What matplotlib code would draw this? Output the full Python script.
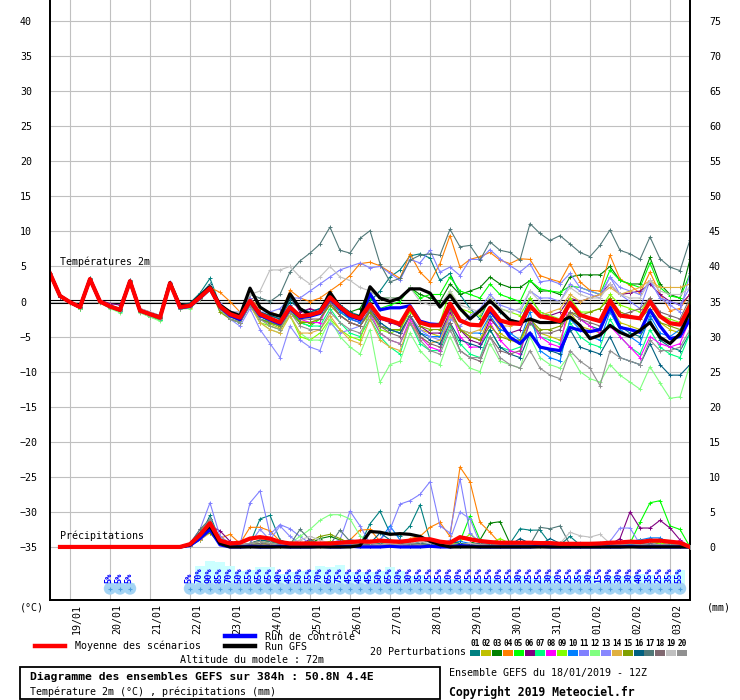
import numpy as np
import matplotlib
matplotlib.use("Agg")
import matplotlib.pyplot as plt
from matplotlib.lines import Line2D
from matplotlib.patches import Rectangle

plt.rcParams['font.family'] = ['DejaVu Sans Mono', 'DejaVu Sans']

# heures depuis le 18/01 12Z
temp_hours = np.arange(0, 385, 6)
rain_hours = np.arange(6, 385, 6)
member_rain_hours = np.arange(84, 385, 6)

day_hours = np.arange(12, 384, 24)
day_labels = ['19/01', '20/01', '21/01', '22/01', '23/01', '24/01', '25/01', '26/01',
              '27/01', '28/01', '29/01', '30/01', '31/01', '01/02', '02/02', '03/02']

# temperature 2m (C), 20 perturbations
t01 = [4.0,0.7,-0.2,-0.9, 3.3,0.1,-0.5,-1.0, 3.0,-1.2,-1.6,-2.1, 2.7,-0.5,-0.2,1.2,
       3.3,-0.5,-1.5,-2.0, 0.5,-1.5,-2.0,-2.5, 0.0,-1.0,-1.5,-1.0, 1.0,-0.5,-1.5,-2.0,
       0.0,1.5,3.5,4.5, 6.5,6.8,6.2,3.0, 4.0,1.0,-1.0,-2.5, 0.5,-1.5,-2.5,-3.0,
       0.5,-1.5,-2.0,-3.0, -0.5,-2.5,-3.5,-4.0, -1.0,-3.5,-4.5,-5.0, -2.5,-5.5,-6.5,-7.0, -4.5]
t02 = [4.0,0.9,0.0,-0.7, 3.1,-0.1,-0.9,-1.4, 2.8,-1.4,-2.0,-2.5, 2.5,-1.0,-0.9,0.4,
       1.6,-1.0,-2.2,-2.8, -0.3,-2.5,-3.2,-3.8, -1.5,-2.8,-3.0,-2.5, -0.5,-2.0,-3.0,-3.5,
       -1.5,-3.5,-4.0,-4.5, -2.0,-4.0,-4.5,-5.0, -1.5,-4.0,-5.0,-5.5, -2.0,-4.5,-5.5,-6.0,
       -2.5,-4.5,-5.0,-5.5, -1.5,-3.5,-4.0,-4.5, -0.5,-3.0,-3.5,-4.0, -1.0,-3.0,-4.0,-4.5, -2.0]
t03 = [4.0,0.8,-0.2,-1.0, 3.2,0.2,-0.6,-1.1, 2.9,-1.5,-2.2,-2.6, 2.6,-0.7,-0.5,0.8,
       2.0,-0.5,-1.5,-2.0, 0.5,-1.8,-2.5,-3.0, -1.0,-2.5,-2.0,-1.5, 0.5,-1.0,-1.5,-1.0,
       1.5,0.5,0.5,0.5, 2.0,1.0,0.5,0.0, 2.5,1.0,1.5,2.0, 3.5,2.5,2.0,2.0,
       3.0,1.5,1.5,1.0, 3.5,3.8,3.8,3.8, 5.0,3.0,2.5,2.5, 6.3,2.5,1.0,0.5, 6.0]
t04 = [4.0,0.8,-0.1,-0.8, 3.2,0.0,-0.6,-1.1, 2.9,-1.2,-1.8,-2.2, 2.6,-0.6,-0.4,0.7,
       2.0,1.3,0.0,-1.5, 0.5,-1.0,-1.5,-2.0, 1.6,0.5,0.0,0.5, 1.5,2.5,3.7,5.4,
       5.6,5.1,4.2,3.3, 6.8,4.2,2.8,5.4, 9.4,4.9,6.0,6.4, 7.0,5.9,5.4,6.1,
       6.0,3.7,3.2,2.8, 5.4,2.8,1.6,1.5, 6.6,3.2,2.3,1.2, 4.2,1.1,-1.3,-1.0, 1.1]
t05 = [4.1,0.9,0.0,-0.9, 3.3,0.1,-0.8,-1.3, 3.0,-1.2,-1.9,-2.4, 2.7,-0.9,-0.7,0.5,
       1.9,-0.8,-2.0,-2.5, 0.0,-2.0,-3.0,-3.5, -1.0,-3.0,-3.5,-2.5, 0.0,-1.5,-2.5,-2.0,
       0.5,-1.0,-0.5,0.0, 2.0,0.5,1.0,1.0, 3.5,1.5,1.0,0.5, 2.5,1.0,0.5,0.0,
       3.0,1.8,1.5,1.3, 2.2,2.0,1.5,1.0, 4.5,3.0,2.5,2.0, 5.5,2.0,0.8,0.5, 4.0]
t06 = [4.0,0.7,-0.1,-0.7, 3.2,0.2,-0.3,-0.5, 2.9,-1.0,-1.5,-2.0, 2.6,-0.5,-0.6,0.5,
       1.8,-0.5,-2.0,-2.5, 0.5,-1.5,-2.5,-3.0, 0.8,-1.5,-1.0,-1.5, 0.8,-1.0,-2.5,-3.0,
       -0.5,-2.5,-3.0,-3.5, -1.0,-3.5,-4.5,-4.5, -1.5,-4.0,-5.5,-6.0, -2.5,-4.0,-4.5,-4.0,
       -1.0,-2.0,-2.0,-1.5, 0.5,0.0,0.5,1.0, 2.5,1.0,1.2,1.5, 2.5,1.0,0.0,-0.5, 1.0]
t07 = [4.0,0.8,-0.2,-1.0, 3.3,0.0,-0.9,-1.5, 3.0,-1.5,-2.0,-2.6, 2.5,-1.0,-0.8,0.6,
       2.2,-1.0,-2.5,-3.0, -0.5,-2.5,-3.0,-3.5, -1.5,-3.0,-3.5,-3.5, -1.0,-3.0,-4.5,-5.0,
       -2.5,-5.0,-6.5,-7.5, -3.0,-6.0,-7.0,-7.0, -3.5,-6.0,-7.5,-8.0, -4.0,-6.5,-7.0,-6.5,
       -3.0,-5.0,-5.5,-6.0, -3.0,-5.0,-6.0,-6.5, -2.5,-5.0,-6.5,-7.5, -4.0,-6.5,-7.5,-8.0, -4.5]
t08 = [4.0,0.8,-0.1,-0.9, 3.2,0.0,-0.8,-1.3, 2.9,-1.4,-1.9,-2.4, 2.6,-0.8,-0.7,0.6,
       1.9,-0.8,-2.0,-2.5, 0.0,-2.0,-2.8,-3.5, -1.0,-2.5,-3.0,-3.0, 0.0,-2.0,-3.0,-3.5,
       -1.5,-4.5,-5.5,-6.0, -2.5,-5.0,-6.5,-7.0, -1.0,-5.0,-6.5,-6.5, -3.0,-5.5,-7.0,-7.5,
       -2.5,-5.0,-6.0,-6.5, 0.5,-2.5,-3.5,-4.5, -3.5,-5.0,-6.5,-8.0, -5.0,-6.0,-6.5,-6.0, -2.5]
t09 = [4.0,0.8,-0.1,-0.8, 3.1,0.0,-0.7,-1.2, 2.8,-1.3,-1.8,-2.3, 2.6,-0.8,-0.6,0.6,
       1.9,-0.7,-2.5,-3.0, -0.5,-3.0,-3.5,-4.0, -2.0,-5.0,-5.5,-4.5, -2.5,-4.0,-5.0,-5.5,
       -1.0,-4.0,-4.5,-4.0, -1.5,-3.0,-3.5,-3.0, 1.5,-1.0,-1.5,-2.0, 0.5,-1.0,-1.5,-2.0,
       0.5,-1.5,-2.0,-2.5, 0.5,-1.5,-1.5,-1.0, 1.0,-0.5,-1.0,-1.5, 0.5,-2.0,-2.5,-3.0, 0.0]
t10 = [4.0,0.8,-0.1,-0.8, 3.2,0.0,-0.7,-1.2, 2.9,-1.3,-1.8,-2.3, 2.6,-0.8,-0.5,0.7,
       2.0,-1.0,-2.5,-3.0, -0.5,-2.5,-3.0,-3.5, -0.5,-2.0,-1.5,-1.5, 0.5,-1.5,-2.5,-3.0,
       -1.5,-3.5,-4.0,-4.5, -2.0,-4.5,-5.0,-5.0, -2.0,-4.0,-4.5,-4.5, -2.0,-4.0,-4.5,-5.5,
       -1.5,-7.0,-8.0,-8.5, -2.5,-4.0,-5.0,-5.5, -1.5,-4.0,-5.0,-6.0, -2.0,-4.5,-5.0,-4.0, -1.5]
t11 = [4.0,0.8,-0.1,-0.8, 3.2,0.1,-0.6,-1.1, 3.0,-1.2,-1.7,-2.2, 2.8,-0.6,-0.4,0.8,
       2.2,-0.2,-1.5,-1.5, 0.5,-1.5,-1.5,-1.0, 0.5,0.5,1.5,2.5, 3.5,4.5,5.0,5.5,
       4.8,5.0,4.0,3.0, 6.0,5.5,7.3,4.2, 4.9,3.7,6.0,6.0, 7.4,6.1,5.1,4.2,
       5.4,2.8,3.0,2.5, 4.0,2.0,1.5,1.0, 3.5,1.0,0.0,-1.0, 3.0,0.5,0.0,-0.5, 2.0]
t12 = [4.0,0.8,-0.2,-1.0, 3.1,-0.2,-1.0,-1.6, 2.7,-1.6,-2.2,-2.8, 2.4,-1.1,-1.0,0.3,
       1.6,-1.2,-2.5,-3.0, -0.5,-3.0,-4.0,-4.5, -2.0,-4.5,-5.5,-5.5, -2.5,-5.0,-6.5,-7.5,
       -4.0,-11.5,-9.0,-8.5, -4.5,-7.0,-8.5,-9.0, -5.0,-8.0,-9.5,-10.0, -6.0,-8.5,-9.0,-9.5,
       -5.0,-8.0,-9.0,-9.5, -7.5,-10.0,-11.0,-11.5, -9.0,-10.5,-11.5,-12.5, -9.3,-11.6,-13.8,-13.6, -9.0]
t13 = [4.0,0.8,-0.1,-0.8, 3.2,0.0,-0.8,-1.3, 2.9,-1.3,-1.8,-2.4, 2.6,-0.8,-0.6,0.5,
       1.8,-1.0,-2.5,-3.5, -1.0,-4.0,-6.0,-8.0, -3.5,-5.5,-6.5,-7.0, -3.0,-4.5,-4.0,-3.5,
       -1.0,-3.0,-4.0,-4.5, -2.0,-4.0,-5.0,-5.5, -2.5,-3.5,-2.0,-1.0, 1.0,-0.5,-1.0,-1.5,
       1.5,0.5,0.5,0.0, 2.5,1.5,1.0,0.5, 3.5,2.0,1.5,1.0, 3.0,0.5,-0.5,-1.5, 4.0]
t14 = [3.9,0.9,-0.1,-0.7, 3.2,0.1,-0.6,-1.1, 2.9,-1.2,-1.7,-2.2, 2.6,-0.7,-0.6,0.7,
       1.9,-0.8,-2.0,-2.5, -0.5,-3.0,-4.0,-4.5, -2.0,-4.5,-4.5,-4.0, -2.0,-4.0,-5.5,-6.0,
       -2.5,-5.5,-6.5,-7.0, -3.0,-5.0,-6.0,-5.5, -2.0,-4.0,-4.5,-4.0, -1.5,-3.5,-3.5,-3.0,
       -1.0,-2.0,-1.5,-1.0, 1.0,0.0,0.5,1.0, 2.0,1.0,1.5,2.0, 3.0,2.0,2.0,2.0, 2.5]
t15 = [4.0,0.8,-0.1,-0.9, 3.2,0.0,-0.8,-1.3, 2.9,-1.4,-1.9,-2.4, 2.6,-0.9,-0.7,0.5,
       1.8,-1.5,-2.5,-3.0, -0.5,-2.5,-3.0,-3.5, -1.5,-3.0,-3.0,-2.5, -0.5,-2.0,-3.0,-3.5,
       -1.5,-3.5,-4.0,-4.0, -1.0,-3.5,-4.0,-4.0, -1.0,-4.0,-5.0,-5.5, -3.5,-5.0,-5.5,-5.5,
       -2.5,-4.0,-4.0,-3.5, -1.5,-2.0,-1.5,-1.0, 0.5,-1.5,-2.0,-2.5, -1.0,-3.0,-3.5,-4.0, -2.5]
t16 = [4.0,0.7,-0.1,-0.8, 3.3,0.1,-0.6,-1.0, 3.0,-1.1,-1.7,-2.2, 2.7,-0.6,-0.3,1.0,
       2.5,-0.5,-1.5,-2.0, 0.0,-1.5,-2.0,-2.5, 0.5,-1.0,-1.5,-1.0, 1.0,-0.5,-1.5,-2.5,
       -1.0,-3.0,-4.0,-4.5, -2.0,-4.5,-5.5,-6.0, -3.0,-5.5,-6.0,-6.5, -4.0,-6.5,-7.5,-8.0,
       -4.5,-6.5,-7.0,-7.5, -4.0,-6.5,-7.0,-7.5, -5.0,-8.0,-8.5,-9.0, -6.0,-9.0,-10.5,-10.5, -9.0]
t17 = [4.0,0.8,-0.1,-0.8, 3.2,0.0,-0.7,-1.2, 2.9,-1.3,-1.8,-2.3, 2.6,-0.8,-0.6,0.6,
       1.9,-0.5,-1.5,-2.0, 1.0,0.5,0.0,1.0, 4.2,5.8,6.9,8.2, 10.6,7.3,6.9,9.0,
       10.1,5.4,2.8,3.3, 5.9,6.6,6.8,6.6, 10.3,7.8,8.0,5.9, 8.5,7.3,7.0,5.9,
       11.1,9.7,8.7,9.4, 8.2,7.0,6.4,8.0, 10.2,7.3,6.8,6.0, 9.2,6.1,4.9,4.4, 8.8]
t18 = [4.0,0.8,-0.1,-0.8, 3.2,-0.1,-0.8,-1.3, 2.8,-1.4,-1.9,-2.4, 2.5,-0.9,-0.7,0.5,
       1.7,-0.8,-2.0,-2.5, 0.0,-2.0,-2.5,-3.0, -1.0,-2.5,-2.5,-2.5, 0.0,-2.0,-3.0,-3.5,
       -1.0,-3.5,-4.5,-5.0, -2.0,-5.0,-6.0,-6.5, -3.0,-7.0,-8.0,-8.5, -5.0,-7.0,-7.5,-7.0,
       -3.0,-4.5,-4.5,-4.0, -1.5,-2.5,-3.0,-3.5, 0.0,-2.0,-1.5,-1.0, 0.5,-1.5,-2.0,-2.5, 0.5]
t19 = [4.0,0.9,0.0,-0.6, 3.3,0.2,-0.5,-0.9, 3.0,-1.0,-1.5,-2.0, 2.7,-0.5,-0.4,0.9,
       2.3,-0.5,-1.5,-1.5, 1.0,1.5,4.5,4.5, 5.0,3.5,2.5,3.5, 5.0,3.5,3.0,2.0,
       1.5,0.5,0.5,0.5, 2.0,0.0,-0.5,-0.5, 1.5,-0.5,-1.0,-1.5, 0.5,-1.0,-1.5,-1.0,
       1.5,0.0,0.0,0.0, 2.0,1.0,0.5,0.5, 2.5,1.0,0.5,0.5, 3.0,1.5,1.0,1.0, 2.0]
t20 = [4.0,0.8,-0.2,-0.9, 3.1,-0.1,-0.9,-1.4, 2.8,-1.5,-2.0,-2.5, 2.5,-1.0,-0.8,0.4,
       1.7,-1.0,-2.5,-3.0, -0.5,-2.5,-3.5,-4.0, -1.5,-3.5,-4.0,-4.0, -1.5,-3.0,-4.0,-4.5,
       -2.0,-4.5,-5.5,-6.0, -3.0,-5.5,-7.0,-7.5, -4.0,-7.0,-8.0,-8.0, -5.0,-8.0,-9.0,-9.5,
       -7.0,-9.5,-10.5,-11.0, -7.0,-8.5,-9.5,-12.0, -7.0,-8.0,-8.5,-9.0, -5.5,-7.0,-7.0,-6.5, -4.0]

temp_control = [4.0,0.8,-0.1,-0.8, 3.2,0.0,-0.7,-1.2, 2.9,-1.3,-1.8,-2.3, 2.6,-0.9,-0.7,0.5,
                1.8,-0.8,-2.0,-2.6, 0.0,-2.0,-2.6,-3.2, -1.0,-2.3,-2.1,-1.7, 0.4,-1.0,-2.1,-2.6,
                1.1,-1.2,-0.9,-0.9, -0.6,-2.8,-3.2,-3.3, -0.6,-2.7,-3.3,-3.4, -1.3,-3.0,-5.1,-6.0,
                -4.5,-6.5,-6.8,-7.0, -3.7,-4.1,-4.3,-4.0, -0.8,-3.7,-4.0,-4.4, -1.2,-3.5,-5.3,-5.0, -2.5]
temp_gfs = [4.0,0.8,-0.1,-0.8, 3.2,0.0,-0.7,-1.2, 2.9,-1.3,-1.8,-2.2, 2.7,-0.6,-0.5,0.8,
            2.1,-0.5,-1.5,-2.0, 1.9,-0.8,-1.7,-2.1, 1.1,-1.0,-1.9,-1.5, 1.3,-0.8,-1.9,-2.2,
            2.1,0.5,0.0,0.5, 1.8,1.8,1.2,-0.8, 0.9,-1.0,-2.5,-1.3, 0.1,-1.3,-2.7,-3.0,
            -2.5,-3.0,-3.0,-2.9, -2.2,-3.4,-5.3,-4.8, -3.4,-4.4,-5.0,-4.1, -3.0,-5.1,-6.0,-4.6, -1.3]
temp_mean = [4.0,0.8,-0.1,-0.8, 3.2,0.0,-0.7,-1.2, 2.9,-1.3,-1.8,-2.3, 2.6,-0.8,-0.6,0.6,
             1.9,-0.7,-1.8,-2.3, 0.1,-1.8,-2.4,-3.0, -0.8,-2.1,-1.9,-1.5, 0.6,-0.8,-1.9,-2.4,
             -0.4,-2.3,-2.7,-3.2, -0.8,-3.0,-3.4,-3.4, -0.3,-2.7,-3.3,-3.4, -0.9,-2.7,-3.1,-3.2,
             -0.6,-2.1,-2.4,-2.8, -0.2,-1.9,-2.4,-2.8, 0.1,-2.0,-2.2,-2.4, 0.0,-2.1,-3.1,-3.3, -0.6]

# precipitations (mm / 6h), perturbations a partir de 84h
p01 = [0.3,1.5,4.5,1.0,0.3,0.2,0.5,4.0,4.5,1.0, 0.5,0.3,0.2,0.5,0.3,0.2,0.5,0.3,3.3,5.1,
       2.0,1.5,3.0,6.0,1.0,0.5,0.3,0.2,0.5,0.5, 0.3,0.2,0.5,2.6,2.4,2.4,0.5,0.3,1.5,0.3,
       0.2,0.1,0.2,0.3,0.2,0.5,0.3,0.5,0.3,0.2,0.0]
p02 = [0.3,2.0,3.0,1.5,0.5,0.3,0.5,1.0,0.8,0.5, 0.3,0.2,0.3,0.5,0.4,0.3,0.2,0.3,0.5,0.8,
       1.0,0.8,0.5,0.3,0.2,0.3,0.2,0.5,0.3,0.2, 0.2,0.3,0.2,0.1,0.2,0.3,0.2,0.2,0.1,0.2,
       0.3,0.2,0.1,0.2,0.3,0.5,0.8,0.5,0.3,0.2,0.0]
p03 = [0.2,1.2,3.5,0.8,0.3,0.2,0.3,0.5,0.3,0.2, 0.2,0.3,0.5,1.2,1.5,1.0,0.5,0.3,0.2,0.3,
       0.5,0.3,0.2,0.2,0.1,0.3,0.5,0.3,0.5,1.0, 3.4,3.6,0.5,0.2,0.1,0.2,0.3,0.2,0.1,0.2,
       0.2,0.2,0.3,0.5,0.8,1.0,0.8,0.5,0.3,0.2,0.0]
p04 = [0.3,2.5,3.5,1.2,1.8,0.5,2.8,2.8,2.3,0.8, 0.5,0.3,0.2,0.3,0.5,0.8,1.0,2.4,2.5,0.8,
       0.5,0.3,1.2,1.5,2.8,3.5,1.5,11.4,9.3,3.5, 2.1,0.5,0.3,0.2,0.3,0.2,0.3,0.2,0.3,0.2,
       0.2,0.3,0.5,0.3,0.2,0.5,0.8,0.5,0.3,0.2,0.0]
p05 = [0.2,1.0,2.5,0.5,0.3,0.2,0.5,0.8,0.5,0.3, 0.2,0.2,0.3,0.2,0.3,0.5,0.3,0.2,0.3,0.5,
       0.3,0.2,0.5,0.3,0.2,0.5,0.3,0.8,4.4,1.0, 0.3,0.2,0.1,0.2,0.3,0.2,0.1,0.2,0.3,0.2,
       0.2,0.1,0.2,0.3,0.5,3.5,6.3,6.6,3.0,2.5,0.0]
p06 = [0.2,1.5,3.0,2.3,0.8,0.3,0.2,0.3,0.5,0.3, 0.2,0.3,1.1,0.3,0.5,0.3,0.2,1.0,0.5,0.3,
       0.2,0.3,0.5,0.3,0.2,0.1,0.2,0.3,0.2,0.3, 0.5,0.8,0.5,0.3,0.2,0.3,0.2,0.1,0.2,0.3,
       0.2,0.2,0.3,1.2,5.0,2.7,2.7,3.8,2.7,1.0,0.0]
p07 = [0.3,1.8,3.0,1.0,0.3,0.2,0.3,0.2,0.3,0.5, 0.3,0.2,0.2,0.3,0.2,0.3,0.2,0.2,0.3,0.2,
       0.2,0.3,0.2,0.3,0.5,0.3,0.2,0.3,0.2,0.1, 0.2,0.1,0.2,0.1,0.2,0.1,0.2,0.3,0.2,0.1,
       0.1,0.2,0.1,0.2,0.3,0.2,0.3,0.2,0.3,0.2,0.0]
p08 = [0.2,1.2,2.8,0.8,0.3,0.2,0.1,0.2,0.3,0.2, 0.1,0.2,0.1,0.2,0.1,0.2,0.3,0.2,0.1,0.2,
       0.2,0.1,0.2,0.3,0.2,0.1,0.2,0.3,0.5,0.3, 0.2,0.1,0.2,0.1,0.2,0.3,0.2,0.1,0.2,0.1,
       0.2,0.1,0.2,0.3,0.2,0.3,0.2,0.3,0.5,0.9,0.0]
p09 = [0.3,1.5,2.5,1.0,0.5,0.3,0.2,0.5,0.8,0.5, 0.3,0.2,0.3,0.5,0.8,0.5,0.3,0.2,0.3,0.5,
       0.8,0.5,0.3,0.5,0.3,0.2,0.5,0.8,1.8,0.8, 0.5,1.2,0.5,0.3,0.2,0.3,0.2,0.2,0.3,0.2,
       0.2,0.3,0.2,0.3,0.5,0.5,0.8,0.5,0.3,0.2,0.0]
p10 = [0.2,1.0,2.2,0.8,0.3,0.2,0.3,0.2,0.3,0.2, 0.2,0.3,0.2,0.3,0.5,0.3,0.2,0.3,0.5,1.0,
       3.0,1.0,0.5,0.3,0.2,0.3,0.5,0.8,0.5,0.3, 0.2,0.3,0.2,0.3,0.2,0.3,0.2,0.3,0.2,0.3,
       0.2,0.3,0.2,0.5,0.8,1.0,1.3,1.3,0.5,0.3,0.0]
p11 = [0.5,2.5,6.3,1.5,0.5,0.3,6.3,8.0,1.8,3.2, 2.6,1.5,0.5,0.3,0.5,1.0,5.1,3.0,0.5,1.0,
       2.5,6.1,6.6,7.5,9.3,3.0,2.0,9.7,2.0,0.5, 0.3,0.2,0.3,0.5,0.3,0.2,0.3,0.2,0.3,0.2,
       0.2,0.3,0.2,0.3,0.5,0.3,0.2,0.3,0.2,0.3,0.0]
p12 = [0.3,1.5,2.8,0.8,0.3,0.2,0.3,0.5,0.3,0.2, 0.5,1.5,2.5,3.8,4.6,4.6,4.0,1.6,0.5,0.3,
       0.2,0.3,0.5,0.3,0.2,0.3,0.2,0.3,0.2,0.3, 0.2,0.3,0.2,0.3,0.2,0.3,0.2,0.3,0.2,0.3,
       0.2,0.3,0.2,0.3,0.2,0.3,0.2,0.3,0.2,0.3,0.0]
p13 = [0.3,1.5,3.5,1.0,0.5,0.3,0.5,2.5,1.0,3.0, 1.5,0.5,0.3,0.5,0.3,0.5,1.0,0.8,0.5,0.3,
       0.5,0.8,0.5,0.3,0.5,0.3,1.0,5.0,4.0,0.5, 0.3,0.2,0.3,0.5,0.3,0.2,0.3,0.2,0.3,0.5,
       0.3,0.5,0.8,2.7,2.7,0.4,0.3,0.2,0.3,0.2,0.0]
p14 = [0.2,1.0,2.0,0.5,0.3,0.2,0.3,0.5,0.3,0.2, 0.3,0.2,0.3,0.5,0.3,0.2,0.3,0.5,0.8,0.5,
       0.3,0.5,0.8,0.5,0.3,0.2,0.5,0.3,0.2,0.3, 0.2,0.3,0.2,0.3,0.2,0.3,0.2,0.1,0.2,0.3,
       0.2,0.3,0.5,0.3,0.5,0.8,1.0,0.8,0.5,0.3,0.0]
p15 = [0.3,1.5,2.0,0.5,0.3,0.2,0.5,0.8,0.3,0.2, 0.3,0.5,0.8,1.5,1.8,1.2,0.5,0.3,0.2,0.3,
       0.2,0.3,0.5,0.3,0.2,0.3,0.2,0.3,0.5,0.3, 0.2,0.3,0.2,0.3,0.2,0.3,0.2,0.3,0.2,0.3,
       0.2,0.3,0.2,0.5,0.8,0.5,0.8,1.0,0.5,0.3,0.0]
p16 = [0.3,2.0,4.0,1.0,0.3,0.2,0.5,1.0,0.8,0.5, 0.3,0.2,0.3,0.5,0.3,0.5,1.0,0.8,0.5,2.0,
       1.0,0.5,0.8,0.5,0.3,0.5,0.8,0.5,0.3,0.2, 0.3,0.2,0.3,1.2,0.5,0.3,1.2,0.5,0.3,0.2,
       0.2,0.3,0.2,0.3,0.2,0.3,0.2,0.3,0.2,0.3,0.0]
p17 = [0.5,2.5,4.0,1.0,0.5,0.3,0.2,0.5,0.8,0.5, 0.3,2.5,1.0,0.5,0.3,2.4,0.8,0.5,0.3,0.5,
       0.8,0.5,0.3,0.5,1.0,0.5,0.3,0.2,0.3,0.5, 0.3,0.2,0.3,0.5,0.3,2.8,2.6,3.0,0.3,0.2,
       0.2,0.3,0.2,0.3,0.2,0.5,0.3,0.2,0.3,0.2,0.0]
p18 = [0.3,1.5,2.5,0.8,0.3,0.2,0.3,0.5,0.3,0.2, 0.3,0.2,0.5,0.3,0.2,0.3,0.5,0.3,0.2,0.3,
       0.2,0.3,0.2,0.3,0.2,0.3,0.2,0.3,0.2,0.3, 0.2,0.3,0.2,0.3,0.2,0.3,0.2,0.3,0.2,0.3,
       0.2,0.3,0.2,0.3,0.2,0.3,0.5,0.3,0.2,0.3,0.0]
p19 = [0.3,1.5,3.0,1.0,0.5,0.3,0.5,0.8,0.5,0.3, 0.5,1.0,1.5,1.0,0.5,0.3,0.5,0.8,0.5,0.3,
       0.5,0.3,0.5,0.8,0.5,0.3,0.2,0.3,0.5,0.3, 0.2,0.3,0.2,0.3,0.2,0.5,0.8,0.5,2.1,1.6,
       1.4,1.8,0.5,0.3,0.2,0.3,0.2,0.3,0.2,0.3,0.0]
p20 = [0.5,2.0,4.0,1.2,0.5,0.3,0.5,0.8,0.5,0.3, 0.2,0.3,0.5,0.3,0.2,0.3,0.5,0.3,0.2,0.3,
       0.2,0.3,0.5,0.3,0.2,0.3,0.2,0.3,0.2,0.3, 0.2,0.3,0.2,0.3,0.2,0.3,0.2,0.3,0.2,0.3,
       0.2,0.3,0.2,0.3,0.2,0.3,0.2,0.3,0.2,0.3,0.0]

# moyenne, controle et GFS a partir de 6h
rain_mean = [0,0,0,0,0,0,0,0,0,0,0,0,0,
             0.4,1.7,3.4,0.9,0.5,0.6,1.2,1.4,1.2,0.7,
             0.5,0.5,0.5,0.5,0.5,0.6,0.7,0.8,0.75,0.9,
             0.8,0.75,0.9,1.1,1.1,0.75,0.6,1.4,1.1,0.85,
             0.7,0.6,0.6,0.6,0.6,0.55,0.55,0.45,0.45,0.45,
             0.45,0.5,0.6,0.65,0.75,0.7,0.9,0.9,0.75,0.6,0.0]
rain_control = [0,0,0,0,0,0,0,0,0,0,0,0,0,
                0.2,1.2,2.5,0.3,0.0,0.0,0.1,0.0,0.0,0.1,
                0.0,0.0,0.0,0.1,0.0,0.0,0.1,0.0,0.0,0.0,
                0.1,0.0,0.0,0.0,0.1,0.0,0.0,0.2,0.1,0.0,
                0.0,0.0,0.0,0.0,0.0,0.1,0.0,0.0,0.0,0.0,
                0.0,0.0,0.0,0.0,0.1,0.0,0.0,0.0,0.0,0.0,0.0]
rain_gfs = [0,0,0,0,0,0,0,0,0,0,0,0,0,
            0.3,1.8,3.0,0.5,0.0,0.0,0.0,0.0,0.0,0.0,
            0.0,0.0,0.0,0.0,0.0,0.0,0.0,0.2,2.2,2.1,
            1.8,1.9,1.8,1.5,0.8,0.3,0.0,0.0,0.0,0.0,
            0.0,0.0,0.0,0.0,0.0,0.0,0.0,0.0,0.0,0.0,
            0.0,0.0,0.0,0.0,0.0,0.0,0.0,0.0,0.0,0.0,0.0]

# probabilite de precipitation (%)
prob_hours = [36, 42, 48] + list(range(84, 379, 6))
prob_pct = [5, 5, 5,
            5, 70, 90, 85, 70, 50, 55, 65, 65, 40, 45, 50, 55, 70, 65, 75, 45, 45, 45, 50,
            65, 50, 30, 35, 25, 25, 20, 20, 25, 25, 25, 20, 25, 30, 25, 25, 30, 20, 25, 35,
            30, 15, 30, 30, 30, 40, 35, 25, 35, 55]

member_colors = ['#008080', '#c0c000', '#008000', '#ff8000', '#00ff00', '#800080', '#00ff80',
                 '#ff00ff', '#80ff00', '#0080ff', '#8080ff', '#80ff80', '#8888ff', '#e0b040',
                 '#80a000', '#006080', '#507878', '#806870', '#c0c0c0', '#909090']
temp_members = [t01, t02, t03, t04, t05, t06, t07, t08, t09, t10,
                t11, t12, t13, t14, t15, t16, t17, t18, t19, t20]
rain_members = [p01, p02, p03, p04, p05, p06, p07, p08, p09, p10,
                p11, p12, p13, p14, p15, p16, p17, p18, p19, p20]

W, H = 740, 700
Y0, K = 301.5, 7.013   # pixel du 0 C, pixels par degre


def tval(py):
    return (Y0 - py) / K


def fx(x):
    return x / W


def fy(y):
    return 1 - y / H


fig = plt.figure(figsize=(7.4, 7.0), dpi=100)
fig.patch.set_facecolor('white')
ax = fig.add_axes([fx(50), fy(600), 640 / W, 600 / H])
ax.set_xlim(0, 384)
ax.set_ylim(tval(600), tval(0))

ax.set_yticks(np.arange(-35, 41, 5))
ax.set_xticks(day_hours)
ax.set_xticklabels([])
ax.grid(True, color='#c0c0c0', lw=0.8)
ax.set_axisbelow(True)
ax.tick_params(axis='x', length=0)
ax.tick_params(axis='y', length=0, pad=21.6, labelsize=7.2)
for lab in ax.get_yticklabels():
    lab.set_horizontalalignment('left')
for s in ['top']:
    ax.spines[s].set_visible(False)
for s in ['left', 'bottom', 'right']:
    ax.spines[s].set_linewidth(1.3)

for h, lab in zip(day_hours, day_labels):
    ax.text(h + 4.2, -0.006, lab, transform=ax.get_xaxis_transform(), rotation=90,
            ha='center', va='top', fontsize=7.2)

# double ligne du 0
ax.axhline(0.21, color='black', lw=0.8, zorder=2)
ax.axhline(-0.21, color='black', lw=0.8, zorder=2)

for vals, col in zip(temp_members, member_colors):
    ax.plot(temp_hours[:len(vals)], vals, color=col, lw=0.8, marker='+', ms=3,
            mew=0.7, zorder=3)
ax.plot(temp_hours, temp_control, color='#0000ff', lw=2.3, zorder=4)
ax.plot(temp_hours, temp_gfs, color='black', lw=2.3, zorder=4)
ax.plot(temp_hours, temp_mean, color='#ff0000', lw=3.0, zorder=5)

# probabilites + pictos
ax.bar(prob_hours, np.array(prob_pct) * 0.26 / K, bottom=tval(584), width=6,
       color='#ccffff', linewidth=0, zorder=1.5)
ax.scatter(prob_hours, [tval(588.5)] * len(prob_hours), s=80, marker='o',
           color='#a4d4f4', edgecolors='none', zorder=4)
ax.scatter(prob_hours, [tval(588.5)] * len(prob_hours), s=10, marker='+',
           color='#4f9fe0', linewidths=0.8, zorder=4)
for h, p in zip(prob_hours, prob_pct):
    ax.text(h - 0.6, tval(583), f'{p}%', rotation=90, ha='center', va='bottom',
            fontsize=6.2, color='#0000ff', fontweight='bold', zorder=6)

# precipitations sur l'axe de droite
ax2 = ax.twinx()
ax2.set_ylim(tval(600) + 35, tval(0) + 35)
ax2.set_yticks(np.arange(0, 76, 5))
ax2.tick_params(axis='y', length=0, pad=13.7, labelsize=7.2)
ax2.spines['top'].set_visible(False)
for s in ['left', 'bottom', 'right']:
    ax2.spines[s].set_linewidth(1.3)

for vals, col in zip(rain_members, member_colors):
    ax2.plot(member_rain_hours[:len(vals)], vals, color=col, lw=0.8, marker='+', ms=3,
             mew=0.7, zorder=3)
ax2.plot(rain_hours, rain_control, color='#0000ff', lw=2.3, zorder=4)
ax2.plot(rain_hours, rain_gfs, color='black', lw=2.3, zorder=4)
ax2.plot(rain_hours, rain_mean, color='#ff0000', lw=3.0, zorder=5)

# textes
fig.text(fx(60), fy(262), 'Températures 2m', fontsize=7.2, va='center')
fig.text(fx(60), fy(536), 'Précipitations', fontsize=7.2, va='center')
fig.text(fx(20), fy(607), '(°C)', fontsize=7.2, va='center')
fig.text(fx(707), fy(607), '(mm)', fontsize=7.2, va='center')

fig.add_artist(Line2D([fx(35), fx(65)], [fy(646)] * 2, color='#ff0000', lw=3.2))
fig.text(fx(75), fy(646), 'Moyenne des scénarios', fontsize=7.2, va='center')
fig.add_artist(Line2D([fx(225), fx(255)], [fy(636)] * 2, color='#0000ff', lw=3.2))
fig.text(fx(265), fy(637), 'Run de contrôle', fontsize=7.2, va='center')
fig.add_artist(Line2D([fx(225), fx(255)], [fy(646)] * 2, color='black', lw=3.2))
fig.text(fx(265), fy(647), 'Run GFS', fontsize=7.2, va='center')
fig.text(fx(180), fy(660), 'Altitude du modele : 72m', fontsize=7.2, va='center')

fig.text(fx(370), fy(652), '20 Perturbations', fontsize=7.2, va='center')
for i, col in enumerate(member_colors):
    x0 = 470 + 10.9 * i
    fig.add_artist(Rectangle((fx(x0), fy(656)), 10 / W, 6 / H, transform=fig.transFigure,
                             color=col, lw=0))
    fig.text(fx(x0 + 5), fy(644), f'{i + 1:02d}', fontsize=5.6, fontweight='bold',
             ha='center', va='center')

fig.add_artist(Rectangle((fx(20), fy(699)), 420 / W, 32 / H, transform=fig.transFigure,
                         fill=False, ec='black', lw=1.3))
fig.text(fx(30), fy(677), 'Diagramme des ensembles GEFS sur 384h : 50.8N 4.4E',
         fontsize=8.2, fontweight='bold', va='center')
fig.text(fx(30), fy(692), 'Température 2m (°C) , précipitations (mm)', fontsize=7.2,
         va='center')
fig.text(fx(449), fy(673), 'Ensemble GEFS du 18/01/2019 - 12Z', fontsize=7.2, va='center')
fig.text(fx(449), fy(692), 'Copyright 2019 Meteociel.fr', fontsize=8.3, fontweight='bold',
         va='center')

fig.savefig('out.png', dpi=100)
